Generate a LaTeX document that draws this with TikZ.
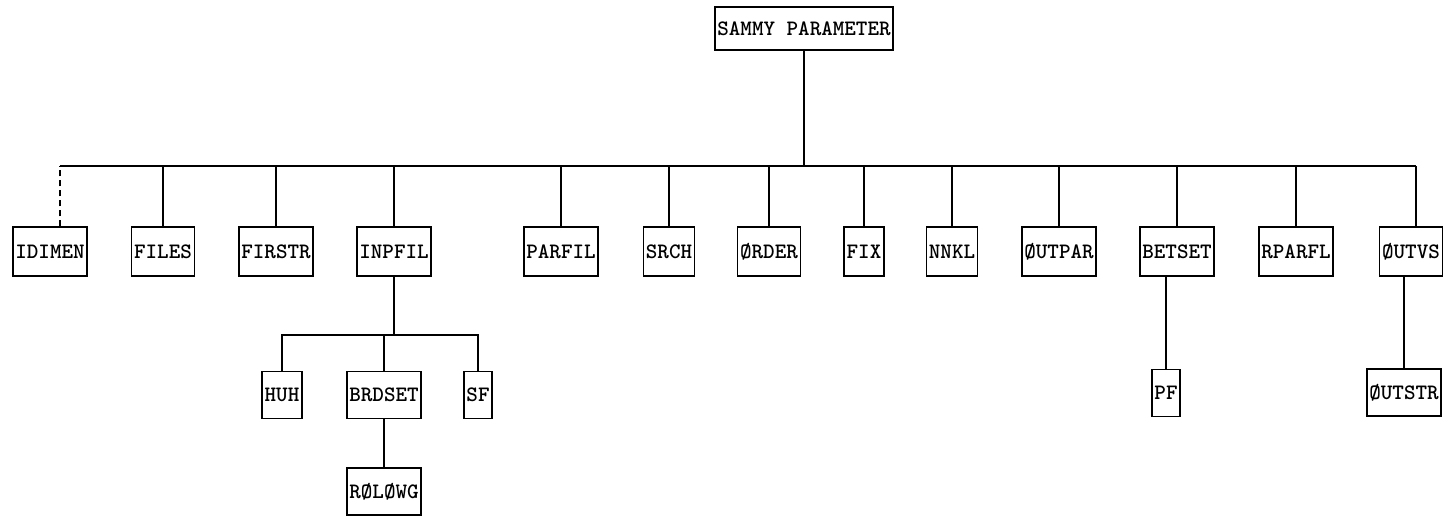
\documentclass[tikz,border=0pt]{standalone}
\usetikzlibrary{calc}
\begin{document}
\begin{tikzpicture}[x=1pt,y=-1pt,
  box/.style={draw,line width=1.5pt,inner xsep=2.5pt,inner ysep=0pt,minimum height=49pt,
    font=\fontsize{22}{22}\selectfont\ttfamily\bfseries},
  subbox/.style={box,minimum height=47pt},
  topbox/.style={box,minimum height=43pt},
  conn/.style={line width=2pt},
  dconn/.style={conn,dash pattern=on 6pt off 4pt}]
\useasboundingbox (0,0) rectangle (1446,519);
% root
\node[topbox] (sammy) at (804,28.5) {SAMMY PARAMETER};
% bus
\coordinate (busL) at (60,166);
\coordinate (busR) at (1416,166);
% first row
\node[box] (idimen) at (50,251.5) {IDIMEN};
\node[box] (files) at (163,251.5) {FILES};
\node[box] (firstr) at (276,251.5) {FIRSTR};
\node[box] (inpfil) at (394,251.5) {INPFIL};
\node[box] (parfil) at (561,251.5) {PARFIL};
\node[box] (srch) at (669,251.5) {SRCH};
\node[box] (order) at (769,251.5) {ØRDER};
\node[box] (fix) at (864,251.5) {FIX};
\node[box] (nnkl) at (952,251.5) {NNKL};
\node[box] (outpar) at (1059,251.5) {ØUTPAR};
\node[box] (betset) at (1177,251.5) {BETSET};
\node[box] (rparfl) at (1296,251.5) {RPARFL};
\node[box] (outvs) at (1411,251.5) {ØUTVS};
% second level
\coordinate (subL) at (282,335);
\node[subbox] (huh) at (282,395) {HUH};
\node[subbox] (brdset) at (384,395) {BRDSET};
\node[subbox] (sf) at (478,395) {SF};
\node[subbox] (pf) at (1166,393) {PF};
\node[subbox] (outstr) at (1404,392.5) {ØUTSTR};
% third level
\node[subbox] (rolowg) at (384,491.5) {RØLØWG};
% connectors
\draw[conn] (busL) -- (busR);
\draw[conn] (sammy.south) -- (sammy.south |- busL);
\draw[dconn] ($(idimen.north)+(10,0)$) -- (busL);
\foreach \n in {files,firstr,inpfil,parfil,srch,order,fix,nnkl,outpar,betset,rparfl}
  \draw[conn] (\n.north) -- (\n.north |- busL);
\draw[conn] ($(outvs.north)+(5,0)$) -- (busR);
\draw[conn] (inpfil.south) -- (inpfil.south |- subL);
\draw[conn] (huh.north) -- (subL) -- (sf.north |- subL) -- (sf.north);
\draw[conn] (brdset.north) -- (brdset.north |- subL);
\draw[conn] (brdset.south) -- (rolowg.north);
\draw[conn] (pf.north) -- (pf.north |- betset.south);
\draw[conn] (outstr.north) -- (outstr.north |- outvs.south);
\end{tikzpicture}
\end{document}
